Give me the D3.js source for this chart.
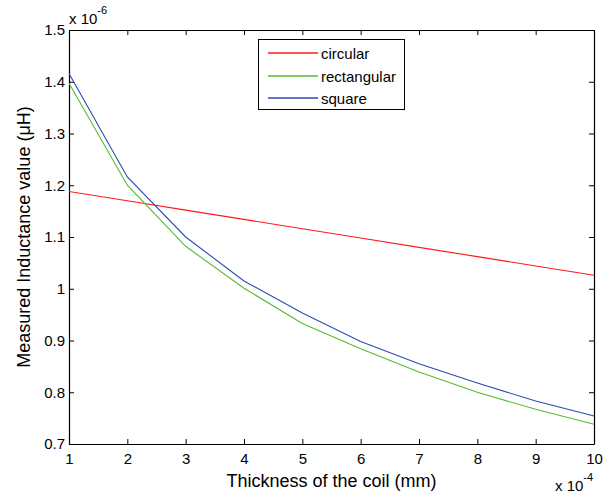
<!DOCTYPE html>
<html>
<head>
<meta charset="utf-8">
<script src="https://cdn.jsdelivr.net/npm/d3@7"></script>
<style>
  body { margin: 0; background: #fff; }
  text { font-family: "Liberation Sans", Arial, sans-serif; fill: #000; }
  .axis path, .axis line { stroke: #000; }
</style>
</head>
<body>
<div id="chart"></div>
<script>
// thickness (x 1e-4 mm) and inductance (x 1e-6 H)
var thickness = [1, 2, 3, 4, 5, 6, 7, 8, 9, 10];
var circular    = [1.188, 1.170, 1.152, 1.134, 1.116, 1.098, 1.080, 1.062, 1.044, 1.026];
var rectangular = [1.397, 1.200, 1.082, 1.001, 0.933, 0.884, 0.839, 0.800, 0.767, 0.738];
var square      = [1.416, 1.216, 1.100, 1.015, 0.953, 0.898, 0.855, 0.818, 0.783, 0.754];
var seriesNames = ["circular", "rectangular", "square"];
var seriesColors = ["#ff1a1a", "#55bb33", "#2a4db0"];
var xTicks = [1, 2, 3, 4, 5, 6, 7, 8, 9, 10];
var yTicks = [0.7, 0.8, 0.9, 1, 1.1, 1.2, 1.3, 1.4, 1.5];

var W = 615, H = 497;
var margin = {top: 30, right: 21, bottom: 53, left: 69};
var width = W - margin.left - margin.right,
    height = H - margin.top - margin.bottom;

var svg = d3.select("#chart").append("svg")
    .attr("width", W)
    .attr("height", H);

var g = svg.append("g")
    .attr("transform", "translate(" + margin.left + "," + margin.top + ")");

var xScale = d3.scaleLinear().domain([1, 10]).range([0, width]);
var yScale = d3.scaleLinear().domain([0.7, 1.5]).range([height, 0]);

var fmt = function(d) { return d3.format("")(+d.toFixed(1)); };

// axes with inward ticks on all four sides
var xAxis = d3.axisBottom(xScale).tickValues(xTicks).tickSize(-5).tickSizeOuter(0).tickPadding(9).tickFormat(fmt);
var xAxisTop = d3.axisTop(xScale).tickValues(xTicks).tickSize(-5).tickSizeOuter(0).tickFormat("");
var yAxis = d3.axisLeft(yScale).tickValues(yTicks).tickSize(-5).tickSizeOuter(0).tickPadding(4).tickFormat(fmt);
var yAxisRight = d3.axisRight(yScale).tickValues(yTicks).tickSize(-5).tickSizeOuter(0).tickFormat("");

g.append("g").attr("class", "axis")
    .attr("transform", "translate(0," + height + ")")
    .call(xAxis)
    .selectAll("text").style("font-size", "15px");
g.append("g").attr("class", "axis").call(xAxisTop);
g.append("g").attr("class", "axis").call(yAxis)
    .selectAll("text").style("font-size", "15px");
g.append("g").attr("class", "axis")
    .attr("transform", "translate(" + width + ",0)")
    .call(yAxisRight);

g.selectAll(".axis path").attr("stroke-width", 1.2);

// lines
var allData = [circular, rectangular, square];
var line = d3.line()
    .x(function(d, i) { return xScale(thickness[i]); })
    .y(function(d) { return yScale(d); });

allData.forEach(function(vals, k) {
  g.append("path")
      .datum(vals)
      .attr("fill", "none")
      .attr("stroke", seriesColors[k])
      .attr("stroke-width", 1.1)
      .attr("d", line);
});

// legend
var legend = g.append("g").attr("class", "legend").attr("transform", "translate(189,9)");
legend.append("rect")
    .attr("x", 0.5).attr("y", 0.5)
    .attr("width", 146).attr("height", 70)
    .attr("fill", "#fff").attr("stroke", "#000").attr("stroke-width", 1);
legend.selectAll("path.key")
    .data(seriesNames)
    .enter().append("path")
    .attr("class", "key")
    .attr("d", function(d, k) { var yy = [14, 37, 59][k]; return "M10," + yy + "H60"; })
    .attr("fill", "none")
    .attr("stroke", function(d, k) { return seriesColors[k]; })
    .attr("stroke-width", 1.3);
legend.selectAll("text.key")
    .data(seriesNames)
    .enter().append("text")
    .attr("class", "key")
    .attr("x", 63)
    .attr("y", function(d, k) { return [14, 37, 59][k] + 6; })
    .style("font-size", "15px")
    .text(function(d) { return d; });

// axis titles
svg.append("text")
    .attr("x", margin.left + width / 2)
    .attr("y", 487)
    .attr("text-anchor", "middle")
    .style("font-size", "18px")
    .text("Thickness of the coil (mm)");

svg.append("text")
    .attr("transform", "translate(30," + (margin.top + height / 2) + ") rotate(-90)")
    .attr("text-anchor", "middle")
    .style("font-size", "18px")
    .text("Measured Inductance value (\u03bcH)");

// exponent labels
var ex1 = svg.append("text").attr("x", 69).attr("y", 24).style("font-size", "15px");
ex1.append("tspan").text("x 10");
ex1.append("tspan").attr("dy", -10).style("font-size", "11px").text("-6");

var ex2 = svg.append("text").attr("x", 555).attr("y", 491).style("font-size", "15px");
ex2.append("tspan").text("x 10");
ex2.append("tspan").attr("dy", -10).style("font-size", "11px").text("-4");
</script>
</body>
</html>
